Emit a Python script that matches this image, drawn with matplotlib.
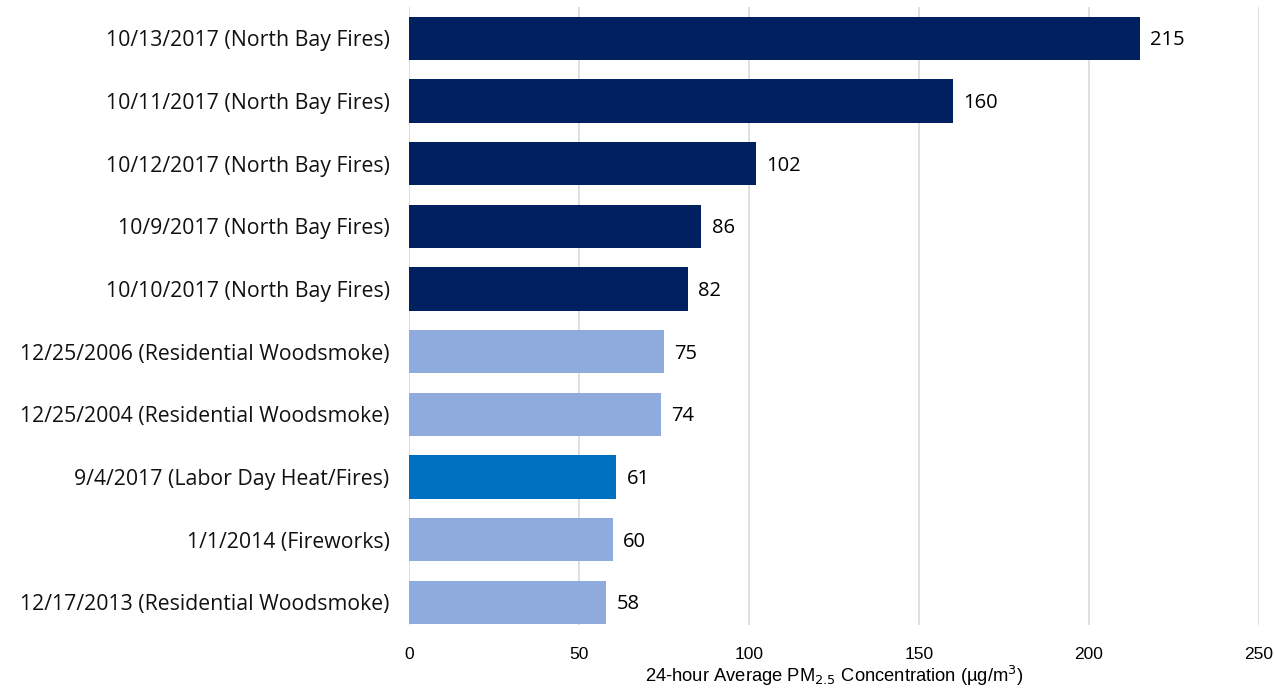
import numpy as np
import matplotlib.pyplot as plt

labels = ['10/13/2017 (North Bay Fires)', '10/11/2017 (North Bay Fires)',
          '10/12/2017 (North Bay Fires)', '10/9/2017 (North Bay Fires)',
          '10/10/2017 (North Bay Fires)', '12/25/2006 (Residential Woodsmoke)',
          '12/25/2004 (Residential Woodsmoke)', '9/4/2017 (Labor Day Heat/Fires)',
          '1/1/2014 (Fireworks)', '12/17/2013 (Residential Woodsmoke)']
values = [215, 160, 102, 86, 82, 75, 74, 61, 60, 58]
groups = ['fire', 'fire', 'fire', 'fire', 'fire', 'wood', 'wood', 'labor', 'wood', 'wood']

colors = {'fire': '#002060', 'wood': '#8FAADC', 'labor': '#0070C0'}

fig = plt.figure(figsize=(12.74, 6.92), dpi=100)
ax = fig.add_axes([409/1274, 67/692, 850/1274, 618/692])

y = np.arange(len(values))[::-1]
ax.barh(y, values, height=0.69, color=[colors[g] for g in groups], zorder=3)
for yi, v in zip(y, values):
    ax.text(v + 3, yi - 0.03, str(v), va='center', ha='left', fontsize=14.5,
            family='Open Sans', fontweight='medium', color='black')

ax.set_xlim(0, 250)
ax.set_ylim(-0.36, 9.5)
ax.set_xticks(np.arange(0, 251, 50))
ax.set_yticks(y)
ax.set_yticklabels(labels, fontsize=15.3, family='Open Sans', color='#111111')
for t in ax.get_xticklabels():
    t.set_family('Liberation Sans')
    t.set_fontsize(12.5)
ax.tick_params(axis='both', length=0)
ax.tick_params(axis='y', pad=14)
ax.tick_params(axis='x', pad=16)
ax.grid(axis='x', color='#D9D9D9', linewidth=1.2, zorder=0)
for s in ax.spines.values():
    s.set_visible(False)
ax.set_xlabel('24-hour Average PM$_{2.5}$ Concentration (\u00b5g/m$^3$)',
              fontsize=13.2, family='Liberation Sans', fontweight='medium',
              labelpad=1)

plt.savefig('out.png', dpi=100)
